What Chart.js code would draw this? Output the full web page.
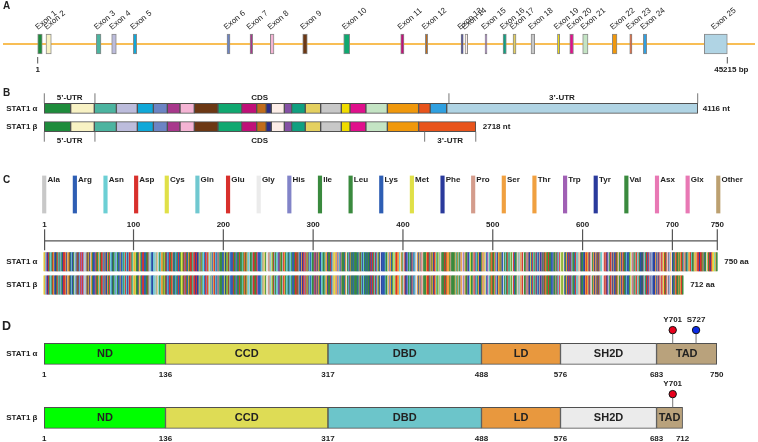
<!DOCTYPE html>
<html>
<head>
<meta charset="utf-8">
<script src="https://cdn.jsdelivr.net/npm/chart.js@4.4.1/dist/chart.umd.min.js"></script>
<style>
  html, body { margin: 0; padding: 0; background: #fff; }
  #fig { position: relative; width: 758px; height: 442px; overflow: hidden; }
  #fig canvas { position: absolute; left: 0; }
</style>
</head>
<body>
<div id="fig">
  <canvas id="cA"   width="758" height="80"  style="top:0px"></canvas>
  <canvas id="cB"   width="758" height="65"  style="top:85px"></canvas>
  <canvas id="cLeg" width="758" height="50"  style="top:165px"></canvas>
  <canvas id="cSeq" width="758" height="85"  style="top:215px"></canvas>
  <canvas id="cD"   width="758" height="137" style="top:305px"></canvas>
</div>
<script>
/* ── Data ── */

/* A: gene structure (bp) */
const GENE_LENGTH = 45215;
const EXON_START = [1, 545, 3843, 4853, 6269, 12413, 13921, 15252, 17376, 20064,
  23801, 25414, 27755, 28018, 29329, 30510, 31166, 32346, 34077, 34884,
  35734, 37675, 38816, 39708, 43707];
const EXON_END = [300, 892, 4151, 5154, 6492, 12610, 14098, 15494, 17678, 20458,
  24018, 25572, 27906, 28195, 29460, 30727, 31363, 32589, 34228, 35127,
  36082, 37983, 38967, 39931, 45215];
const EXON_COLORS = ['#1e8c3c', '#f8f2c4', '#4cb4a0', '#bcbcdc', '#10a8d8', '#6c84c4',
  '#a8388c', '#f4b4d4', '#6c3814', '#10a870', '#c01078', '#c06c1c', '#2c2c88',
  '#fdeee8', '#8450a4', '#10a080', '#e4d060', '#c8c8c8', '#f0dc00', '#e0108c',
  '#c4e4c4', '#f0980c', '#e8541c', '#30a0e0', '#b0d4e4'];

/* B: transcripts (nt), exon boundaries */
const TRANSCRIPTS = ['STAT1 \u03b1', 'STAT1 \u03b2'];
const MRNA_A_BOUNDS = [0, 166, 315, 454, 586, 687, 775, 855, 945, 1094, 1243, 1338, 1398,
  1430, 1512, 1558, 1644, 1741, 1871, 1926, 2026, 2161, 2358, 2431, 2535, 4116];
const MRNA_B_BOUNDS = [0, 166, 315, 454, 586, 687, 775, 855, 945, 1094, 1243, 1338, 1398,
  1430, 1512, 1558, 1644, 1741, 1871, 1926, 2026, 2161, 2358, 2718];
const REGION_LABELS = ['5\u2019-UTR', 'CDS', '3\u2019-UTR'];
const REGION_A_TICKS = [0, 319, 2549, 4116];
const REGION_A_LABEL_AT = [160, 1357, 3261];
const REGION_B_TICKS = [0, 319, 2396, 2718];
const REGION_B_LABEL_AT = [160, 1357, 2557];

/* C: amino-acid legend and sequences */
const AA_NAMES = ['Ala', 'Arg', 'Asn', 'Asp', 'Cys', 'Gln', 'Glu', 'Gly', 'His', 'Ile', 'Leu', 'Lys',
  'Met', 'Phe', 'Pro', 'Ser', 'Thr', 'Trp', 'Tyr', 'Val', 'Asx', 'Glx', 'Other'];
const AA_CODES = ['A', 'R', 'N', 'D', 'C', 'Q', 'E', 'G', 'H', 'I', 'L', 'K',
  'M', 'F', 'P', 'S', 'T', 'W', 'Y', 'V', 'B', 'Z', 'X'];
const AA_COLORS = ['#c8c8c8', '#2e5eb4', '#6ccfd4', '#d8302c', '#e0e048', '#70c8d0', '#d8302c',
  '#ebebeb', '#8284c8', '#3a8a3e', '#3a8a3e', '#2e5eb4', '#e0e048', '#2a3a9c', '#d49c8c',
  '#f0a040', '#f0a040', '#a060b4', '#2a3a9c', '#3a8a3e', '#e878b4', '#e878b4', '#bca070'];
const RULER_TICKS = [1, 100, 200, 300, 400, 500, 600, 700, 750];
const STAT1_ALPHA =
  'MSQWYELQQLDSKFLEQVHQLYDDSFPMEIRQYLAQWLEKQDWEHAANDV' +
  'SFATIRFHDLLSQLDDQYSRFSLENNFLLQHNIRKSKRNLQDNFQEDPIQ' +
  'MSMIIYSCLKEERKILENAQRFNQAQSGNIQSTVMLDKQKELDSKVRNVK' +
  'DKVMCIEHEIKSLEDLQDEYDFKCKTLQNREHETNGVAKSDQKQEQLLLK' +
  'KMYLMLDNKRKEVVHKIIELLNVTELTQNALINDELVEWKRRQQSACIGG' +
  'PPNACLDQLQNWFTIVAETLQQVRQQLKKLEELEQKYTYEHDPITKNKQV' +
  'LWDRTFSLFQQLIQSSFVVERQPCMPTHPQRPLVLKTGVQFTVKLRLLVK' +
  'LQELNYNLKVKVLFDKDVNERNTVKGFRKFNILGTHTKVMNMEESTNGSL' +
  'AAEFRHLQLKEQKNAGTRTNEGPLIVTEELHSLSFETQLCQPGLVIDLET' +
  'TSLPVVVISNVSQLPSGWASILWYNMLVAEPRNLSFFLTPPCARWAQLSE' +
  'VLSWQFSSVTKRGLNVDQLNMLGEKLLGPNASPDGLIPWTRFCKENINDK' +
  'NFPFWLWIESILELIKKHLLPLWNDGCIMGFISKERERALLKDQQPGTFL' +
  'LRFSESSREGAITFTWVERSQNGGEPDFHAVEPYTKKELSAVTFPDIIRN' +
  'YKVMAAENIPENPLKYLYPNIDKDHAFGKYYSRPKEAPEPMELDGPKGTG' +
  'YIKTELISVSEVHPSRLQTTDNLLPMSPEEFDEVSRIVGSVEFDSMMNTV';
const STAT1_BETA = STAT1_ALPHA.slice(0, 712);

/* D: protein domains (aa) */
const DOMAINS = ['ND', 'CCD', 'DBD', 'LD', 'SH2D', 'TAD'];
const DOMAIN_START = [1, 136, 317, 488, 576, 683];
const DOMAIN_END_A = [136, 317, 488, 576, 683, 750];
const DOMAIN_END_B = [136, 317, 488, 576, 683, 712];
const DOMAIN_COLORS = ['#00ff00', '#dedc55', '#6cc5ca', '#e8983e', '#ebebeb', '#b9a27c'];
const SITES_A = ['Y701', 'S727'];
const SITES_A_POS = [701, 727];
const SITES_B = ['Y701'];
const SITES_B_POS = [701];
const SITE_COLORS = { Y: '#e8001c', S: '#0a2ae6' };

/* ── Drawing helpers ── */
const FONT = '"Liberation Sans", Arial, sans-serif';

function txt(ctx, s, x, y, size, o = {}) {
  ctx.save();
  ctx.font = (o.bold === false ? '' : 'bold ') + size + 'px ' + FONT;
  ctx.fillStyle = o.color || '#222';
  ctx.textAlign = o.align || 'center';
  ctx.textBaseline = o.baseline || 'middle';
  ctx.fillText(s, x, y);
  ctx.restore();
}

function vline(ctx, x, y1, y2, color = '#555', w = 1) {
  ctx.save();
  ctx.strokeStyle = color;
  ctx.lineWidth = w;
  ctx.beginPath();
  ctx.moveTo(x, y1);
  ctx.lineTo(x, y2);
  ctx.stroke();
  ctx.restore();
}

/* Horizontal floating-bar track chart (rows may sit on the chart-area edge, so no clipping) */
function mkTrack(id, labels, data, colors, o) {
  return new Chart(document.getElementById(id), {
    type: 'bar',
    data: {
      labels,
      datasets: [{
        data,
        backgroundColor: colors,
        borderColor: o.border || '#555',
        borderWidth: o.bw === undefined ? 1 : o.bw,
        borderSkipped: false,
        barThickness: o.thick,
        clip: false,
      }],
    },
    options: {
      responsive: false,
      animation: false,
      indexAxis: 'y',
      layout: { padding: o.pad },
      plugins: { legend: { display: false }, tooltip: { enabled: false } },
      scales: {
        x: { type: 'linear', min: o.min, max: o.max, display: false },
        y: { type: 'category', offset: o.offset, display: false },
      },
    },
    plugins: [{ id: id + 'Deco', beforeDatasetsDraw: o.before, afterDatasetsDraw: o.after }],
  });
}

function segments(bounds, row, palette) {
  const data = [], colors = [];
  for (let i = 0; i < bounds.length - 1; i++) {
    data.push({ x: [bounds[i], bounds[i + 1]], y: row });
    colors.push(palette[i]);
  }
  return { data, colors };
}

/* ── A: gene ── */
mkTrack('cA', ['gene'],
  EXON_START.map((s, i) => ({ x: [s, EXON_END[i]], y: 'gene' })),
  EXON_COLORS,
  {
    border: '#8a8a8a', thick: 20, offset: true,
    pad: { left: 3, right: 3, top: 24, bottom: 16 },
    min: -2274, max: 47031,
    before(chart) {
      const { ctx, chartArea: a } = chart;
      const yc = chart.scales.y.getPixelForValue(0);
      ctx.save();
      ctx.strokeStyle = '#f6a81c';
      ctx.lineWidth = 1.5;
      ctx.beginPath();
      ctx.moveTo(a.left, yc);
      ctx.lineTo(a.right, yc);
      ctx.stroke();
      ctx.restore();
    },
    after(chart) {
      const { ctx } = chart;
      const xs = chart.scales.x;
      const yc = chart.scales.y.getPixelForValue(0);
      EXON_START.forEach((s, i) => {
        const cx = (xs.getPixelForValue(s) + xs.getPixelForValue(EXON_END[i])) / 2;
        ctx.save();
        ctx.translate(cx - 2, yc - 14);
        ctx.rotate(-40 * Math.PI / 180);
        txt(ctx, 'Exon ' + (i + 1), 0, 0, 8, { bold: false, align: 'left', baseline: 'alphabetic' });
        ctx.restore();
      });
      const x1 = xs.getPixelForValue(1), x2 = xs.getPixelForValue(GENE_LENGTH);
      vline(ctx, x1, yc + 13, yc + 19.5);
      vline(ctx, x2, yc + 13, yc + 19.5);
      txt(ctx, '1', x1, yc + 26, 8);
      txt(ctx, GENE_LENGTH + ' bp', x2 + 4, yc + 26, 8);
      txt(ctx, 'A', 3, 6, 10, { align: 'left' });
    },
  });

/* ── B: transcripts ── */
const segA = segments(MRNA_A_BOUNDS, TRANSCRIPTS[0], EXON_COLORS);
const segB = segments(MRNA_B_BOUNDS, TRANSCRIPTS[1], EXON_COLORS);
mkTrack('cB', TRANSCRIPTS, segA.data.concat(segB.data), segA.colors.concat(segB.colors), {
  border: '#505050', thick: 10, offset: false,
  pad: { left: 44.3, right: 60.3, top: 23.3, bottom: 23.3 },
  min: 0, max: 4116,
  after(chart) {
    const { ctx } = chart;
    const xs = chart.scales.x, ys = chart.scales.y;
    const ya = ys.getPixelForValue(0), yb = ys.getPixelForValue(1);
    txt(ctx, TRANSCRIPTS[0], 37.5, ya, 8, { align: 'right' });
    txt(ctx, TRANSCRIPTS[1], 37.5, yb, 8, { align: 'right' });
    REGION_A_TICKS.forEach(v => vline(ctx, xs.getPixelForValue(v), ya - 15, ya - 5, '#777'));
    REGION_B_TICKS.forEach(v => vline(ctx, xs.getPixelForValue(v), yb + 5, yb + 15, '#777'));
    REGION_LABELS.forEach((l, i) => {
      txt(ctx, l, xs.getPixelForValue(REGION_A_LABEL_AT[i]), ya - 11, 8);
      txt(ctx, l, xs.getPixelForValue(REGION_B_LABEL_AT[i]), yb + 14, 8);
    });
    const endA = MRNA_A_BOUNDS[MRNA_A_BOUNDS.length - 1];
    const endB = MRNA_B_BOUNDS[MRNA_B_BOUNDS.length - 1];
    txt(ctx, endA + ' nt', xs.getPixelForValue(endA) + 5, ya, 8, { align: 'left' });
    txt(ctx, endB + ' nt', xs.getPixelForValue(endB) + 7, yb, 8, { align: 'left' });
    txt(ctx, 'B', 3, 8.5, 10, { align: 'left' });
  },
});

/* ── C: amino-acid legend ── */
new Chart(document.getElementById('cLeg'), {
  type: 'bar',
  data: {
    labels: AA_NAMES,
    datasets: [{ data: AA_NAMES.map(() => 1), backgroundColor: AA_COLORS, borderWidth: 0, barThickness: 3.5 }],
  },
  options: {
    responsive: false,
    animation: false,
    layout: { padding: { left: 28.9, right: 24.4, top: 10.5, bottom: 1.5 } },
    plugins: { legend: { display: false }, tooltip: { enabled: false } },
    scales: { x: { display: false }, y: { display: false, min: 0, max: 1 } },
  },
  plugins: [{
    id: 'legLabels',
    afterDatasetsDraw(chart) {
      const { ctx, chartArea: a } = chart;
      AA_NAMES.forEach((n, i) => {
        txt(ctx, n, chart.scales.x.getPixelForValue(i) + 3.2, a.top + 4, 8, { align: 'left' });
      });
      txt(ctx, 'C', 3, 15, 10, { align: 'left' });
    },
  }],
});

/* ── C: sequences ── */
const seqData = [], seqColors = [];
[STAT1_ALPHA, STAT1_BETA].forEach((seq, r) => {
  for (let i = 0; i < seq.length; i++) {
    seqData.push({ x: [i, i + 1], y: TRANSCRIPTS[r] });
    seqColors.push(AA_COLORS[AA_CODES.indexOf(seq[i])]);
  }
});
mkTrack('cSeq', TRANSCRIPTS, seqData, seqColors, {
  bw: 0, thick: 18.3, offset: false,
  pad: { left: 43.7, right: 40.7, top: 46.8, bottom: 15 },
  min: 0, max: 750,
  after(chart) {
    const { ctx } = chart;
    const xs = chart.scales.x, ys = chart.scales.y;
    const ya = ys.getPixelForValue(0), yb = ys.getPixelForValue(1);
    ctx.save();
    ctx.strokeStyle = '#555';
    ctx.lineWidth = 1.2;
    ctx.beginPath();
    ctx.moveTo(xs.getPixelForValue(RULER_TICKS[0]), ya - 21);
    ctx.lineTo(xs.getPixelForValue(RULER_TICKS[RULER_TICKS.length - 1]), ya - 21);
    ctx.stroke();
    ctx.restore();
    RULER_TICKS.forEach(t => {
      const x = xs.getPixelForValue(t);
      vline(ctx, x, ya - 32.5, ya - 11.5, '#555', 1.2);
      txt(ctx, String(t), x, ya - 37.5, 8);
    });
    txt(ctx, TRANSCRIPTS[0], 37.5, ya, 8, { align: 'right' });
    txt(ctx, TRANSCRIPTS[1], 37.5, yb, 8, { align: 'right' });
    txt(ctx, STAT1_ALPHA.length + ' aa', xs.getPixelForValue(STAT1_ALPHA.length) + 7, ya, 8, { align: 'left' });
    txt(ctx, STAT1_BETA.length + ' aa', xs.getPixelForValue(STAT1_BETA.length) + 7, yb, 8, { align: 'left' });
  },
});

/* ── D: domains ── */
const domData = [], domColors = [];
[DOMAIN_END_A, DOMAIN_END_B].forEach((ends, r) => {
  DOMAIN_START.forEach((s, i) => {
    domData.push({ x: [s, ends[i]], y: TRANSCRIPTS[r] });
    domColors.push(DOMAIN_COLORS[i]);
  });
});
mkTrack('cD', TRANSCRIPTS, domData, domColors, {
  border: '#505050', thick: 21, offset: false,
  pad: { left: 44.3, right: 41.3, top: 48.8, bottom: 24.2 },
  min: 1, max: 750,
  after(chart) {
    const { ctx } = chart;
    const xs = chart.scales.x, ys = chart.scales.y;
    [DOMAIN_END_A, DOMAIN_END_B].forEach((ends, r) => {
      const y = ys.getPixelForValue(r);
      txt(ctx, TRANSCRIPTS[r], 37.5, y, 8, { align: 'right' });
      DOMAINS.forEach((d, i) => {
        const cx = (xs.getPixelForValue(DOMAIN_START[i]) + xs.getPixelForValue(ends[i])) / 2;
        txt(ctx, d, cx, y + 0.5, 11);
      });
      const nums = DOMAIN_START.concat([ends[ends.length - 1]]);
      nums.forEach(n => txt(ctx, String(n), xs.getPixelForValue(n), y + 20.5, 8));
      const names = r === 0 ? SITES_A : SITES_B;
      const pos = r === 0 ? SITES_A_POS : SITES_B_POS;
      names.forEach((nm, i) => {
        const x = xs.getPixelForValue(pos[i]);
        const cy = y - 23.7;
        vline(ctx, x, cy + 3.7, y - 10.5, '#777');
        ctx.save();
        ctx.beginPath();
        ctx.arc(x, cy, 3.7, 0, Math.PI * 2);
        ctx.fillStyle = SITE_COLORS[nm[0]];
        ctx.fill();
        ctx.strokeStyle = '#111';
        ctx.lineWidth = 1;
        ctx.stroke();
        ctx.restore();
        txt(ctx, nm, x, cy - 10.5, 8);
      });
    });
    txt(ctx, 'D', 2, 22, 12.5, { align: 'left' });
  },
});
</script>
</body>
</html>
